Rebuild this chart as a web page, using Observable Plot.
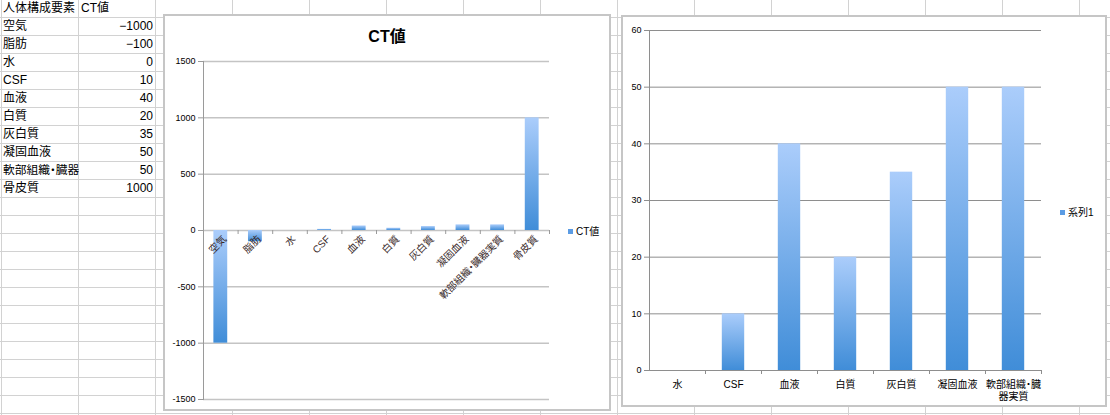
<!DOCTYPE html>
<html>
<head>
<meta charset="utf-8">
<script src="https://cdn.jsdelivr.net/npm/d3@7"></script>
<script src="https://cdn.jsdelivr.net/npm/@observablehq/plot@0.6"></script>
<style>
html,body{margin:0;padding:0;}
body{width:1110px;height:415px;overflow:hidden;position:relative;background-color:#fff;
 background-image:linear-gradient(to right,#d2d2d2 1px,transparent 1px),linear-gradient(to bottom,#d2d2d2 1px,transparent 1px);
 background-size:77px 18px;background-position:78px 17px;
 font-family:"Liberation Sans","Noto Sans CJK JP",sans-serif;font-feature-settings:"palt";}
.cell{position:absolute;height:18px;line-height:18px;font-size:12px;white-space:nowrap;overflow:hidden;color:#000;box-sizing:border-box;}
.box{position:absolute;background:#fff;border:2px solid #c6c6c6;box-sizing:border-box;}
.box svg{position:absolute;}
.title{position:absolute;left:0;right:0;text-align:center;font-weight:bold;font-size:16px;line-height:18px;color:#000;}
.legend{position:absolute;font-size:10px;line-height:12px;color:#000;white-space:nowrap;}
.legend span.sw{display:inline-block;width:5px;height:5px;background:#5b9ce4;margin-right:3px;vertical-align:1px;}
</style>
</head>
<body>
<svg width="0" height="0" style="position:absolute">
  <defs>
    <linearGradient id="barGrad" x1="0" y1="0" x2="0" y2="1">
      <stop offset="0%" stop-color="#abcdfb"/>
      <stop offset="100%" stop-color="#408dd8"/>
    </linearGradient>
  </defs>
</svg>
<div id="table"></div>
<div class="box" id="box1" style="left:163px;top:14px;width:448px;height:397px;">
  <div class="title" style="top:12px;">CT値</div>
  <div class="legend" style="left:403px;top:210px;"><span class="sw"></span>CT値</div>
</div>
<div class="box" id="box2" style="left:621px;top:15px;width:486px;height:392px;">
  <div class="legend" style="left:437px;top:190px;"><span class="sw"></span>系列1</div>
</div>
<script>
// ---- data ----
const headerLabels = ["人体構成要素", "CT値"];
const categories = ["空気", "脂肪", "水", "CSF", "血液", "白質", "灰白質", "凝固血液", "軟部組織・臓器実質", "骨皮質"];
const tableNames = ["空気", "脂肪", "水", "CSF", "血液", "白質", "灰白質", "凝固血液", "軟部組織・臓器", "骨皮質"];
const ctValues = [-1000, -100, 0, 10, 40, 20, 35, 50, 50, 1000];
const yTicks1 = [-1500, -1000, -500, 0, 500, 1000, 1500];

const categories2 = ["水", "CSF", "血液", "白質", "灰白質", "凝固血液", "軟部組織・臓器実質"];
const values2 = [0, 10, 40, 20, 35, 50, 50];
const xLabels2 = ["水", "CSF", "血液", "白質", "灰白質", "凝固血液", "軟部組織・臓\n器実質"];
const yTicks2 = [0, 10, 20, 30, 40, 50, 60];

// ---- spreadsheet table ----
const tbl = document.getElementById("table");
function cell(text, left, top, width, align) {
  const d = document.createElement("div");
  d.className = "cell";
  d.textContent = text;
  d.style.left = left + "px";
  d.style.top = top + "px";
  d.style.width = width + "px";
  d.style.textAlign = align;
  d.style.padding = align === "right" ? "0 2px 0 0" : "0 0 0 2px";
  tbl.appendChild(d);
  let fs = 12;
  while (d.scrollWidth > d.clientWidth && fs > 9) {
    fs -= 0.25;
    d.style.fontSize = fs + "px";
  }
}
cell(headerLabels[0], 1, -1, 78, "left");
cell(headerLabels[1], 79, -1, 76, "left");
tableNames.forEach((n, i) => {
  cell(n, 1, 17 + 18 * i, 78, "left");
  cell(String(ctValues[i]).replace("-", "\u2212"), 79, 17 + 18 * i, 76, "right");
});

const font = '"Liberation Sans","Noto Sans CJK JP",sans-serif';
const gridStyle = {fontFamily: font, fontSize: "9px", color: "#000", background: "transparent", overflow: "visible"};

// ---- chart 1 ----
const rows1 = categories.map((c, i) => ({c, v: ctValues[i]}));
const W1 = 444, H1 = 393, ml1 = 38, mr1 = 60, mt1 = 45, mb1 = 10;
const step1 = (W1 - ml1 - mr1) / categories.length;
const chart1 = Plot.plot({
  width: W1, height: H1,
  marginLeft: ml1, marginRight: mr1, marginTop: mt1, marginBottom: mb1,
  style: gridStyle,
  x: {domain: categories, paddingInner: 0.6, paddingOuter: 0.3, round: false, axis: null, label: null},
  y: {domain: [-1500, 1500], label: null},
  marks: [
    Plot.gridY({ticks: yTicks1, stroke: "#c4c4c4", strokeOpacity: 1, strokeWidth: 1.5}),
    Plot.frame({anchor: "left", stroke: "#9a9a9a"}),
    Plot.axisY({ticks: yTicks1, tickSize: 5, tickPadding: 3, tickFormat: d => String(d), stroke: "#9a9a9a", fill: "#000", fontSize: 9, label: null}),
    Plot.barY(rows1, {x: "c", y: "v", fill: "url(#barGrad)"}),
    Plot.ruleX(rows1, {x: "c", y1: 0, y2: 0, dx: step1 / 2, insetBottom: -4, stroke: "#9a9a9a"}),
    Plot.text(rows1, {x: "c", y: 0, text: "c", rotate: -45, textAnchor: "end", dx: 4, dy: 7, fontSize: 10, fill: "#3a2a2a"})
  ]
});
chart1.style.left = "0px"; chart1.style.top = "0px";
document.getElementById("box1").appendChild(chart1);

// ---- chart 2 ----
const rows2 = categories2.map((c, i) => ({c, v: values2[i]}));
const W2 = 482, H2 = 388, ml2 = 26, mr2 = 64, mt2 = 13, mb2 = 35;
const step2 = (W2 - ml2 - mr2) / categories2.length;
const chart2 = Plot.plot({
  width: W2, height: H2,
  marginLeft: ml2, marginRight: mr2, marginTop: mt2, marginBottom: mb2,
  style: gridStyle,
  x: {domain: categories2, paddingInner: 0.6, paddingOuter: 0.3, round: false, label: null},
  y: {domain: [0, 60], label: null},
  marks: [
    Plot.gridY({ticks: yTicks2, stroke: "#8e8e8e", strokeOpacity: 1, strokeWidth: 1}),
    Plot.frame({anchor: "left", stroke: "#8e8e8e"}),
    Plot.axisY({ticks: yTicks2, tickSize: 5, tickPadding: 3, tickFormat: d => String(d), stroke: "#8e8e8e", fill: "#000", fontSize: 9, label: null}),
    Plot.barY(rows2, {x: "c", y: "v", fill: "url(#barGrad)"}),
    Plot.ruleX(rows2, {x: "c", y1: 0, y2: 0, dx: step2 / 2, insetBottom: -4, stroke: "#8e8e8e"}),
    Plot.axisX({tickSize: 0, tickPadding: 9, fontSize: 10, lineHeight: 1.2, fill: "#000", label: null,
      tickFormat: d => xLabels2[categories2.indexOf(d)]})
  ]
});
chart2.style.left = "0px"; chart2.style.top = "0px";
document.getElementById("box2").appendChild(chart2);
</script>
</body>
</html>
